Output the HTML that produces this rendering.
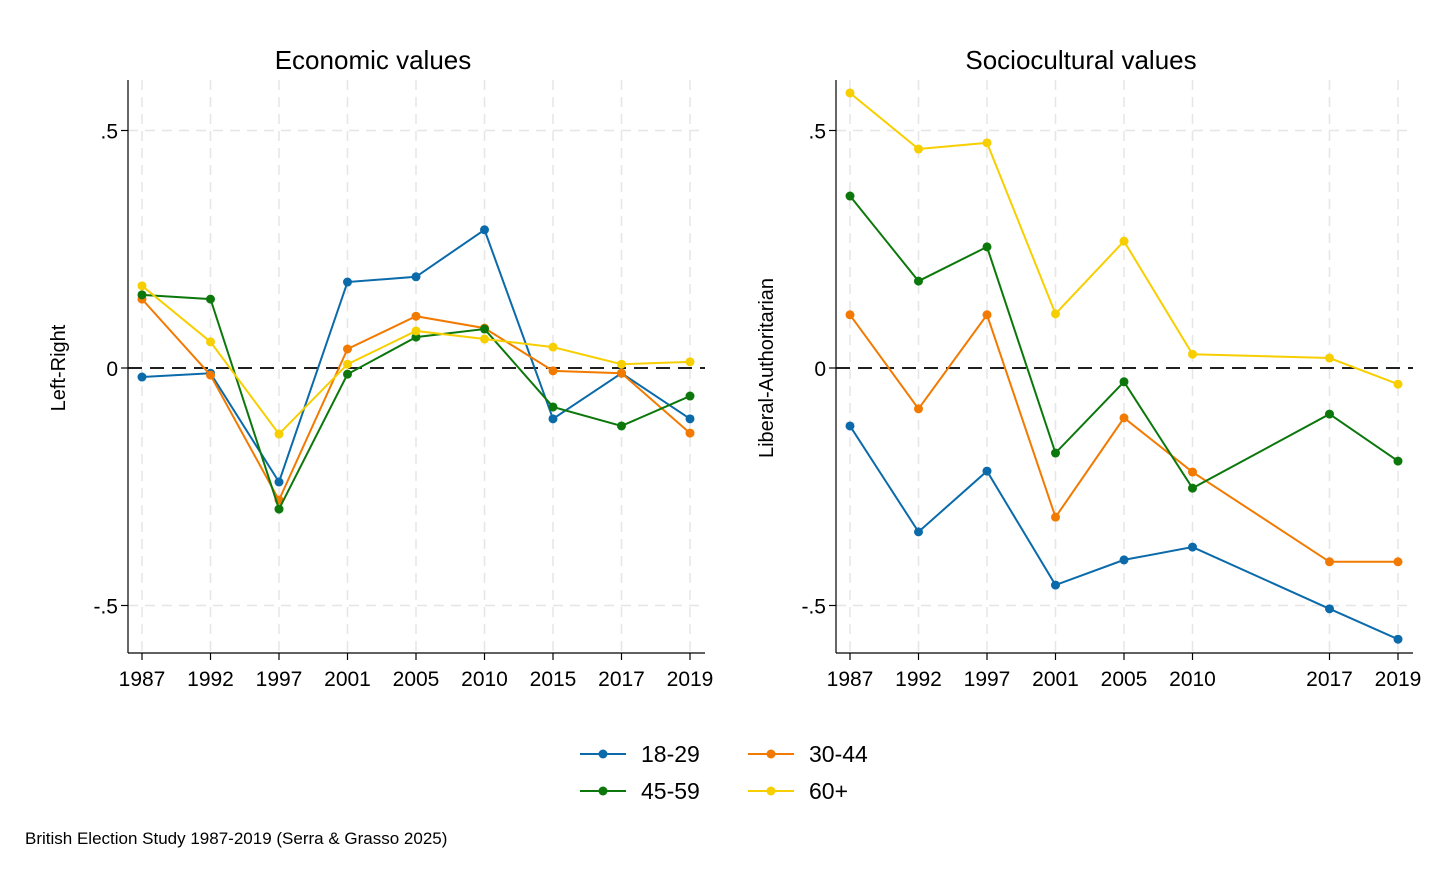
<!DOCTYPE html>
<html><head><meta charset="utf-8"><style>
body{margin:0;background:#fff;}
svg text{font-family:"Liberation Sans",Arial,sans-serif;fill:#000;}
</style></head><body>
<svg width="1456" height="874" viewBox="0 0 1456 874" id="chart"></svg>
<script>
const yearsLeft=["1987","1992","1997","2001","2005","2010","2015","2017","2019"];
const slotsLeft=[0,1,2,3,4,5,6,7,8];
const yearsRight=["1987","1992","1997","2001","2005","2010","2017","2019"];
const slotsRight=[0,1,2,3,4,5,7,8];
const seriesNames=["18-29","30-44","45-59","60+"];
const seriesColors=["#0a6aaa","#f27a00","#0c780c","#f7cf00"];
const econ1829=[-0.019,-0.011,-0.24,0.181,0.192,0.291,-0.107,-0.011,-0.107];
const econ3044=[0.145,-0.015,-0.278,0.04,0.109,0.084,-0.006,-0.011,-0.137];
const econ4559=[0.154,0.145,-0.297,-0.013,0.065,0.082,-0.082,-0.122,-0.059];
const econ60=[0.173,0.055,-0.139,0.008,0.078,0.061,0.044,0.008,0.013];
const soc1829=[-0.122,-0.345,-0.217,-0.457,-0.404,-0.377,-0.507,-0.571];
const soc3044=[0.112,-0.086,0.112,-0.314,-0.105,-0.219,-0.408,-0.408];
const soc4559=[0.362,0.183,0.255,-0.179,-0.029,-0.253,-0.097,-0.196];
const soc60=[0.579,0.461,0.474,0.114,0.267,0.029,0.021,-0.034];
const yTicks=[0.5,0,-0.5];
const yTickLabels=[".5","0","-.5"];

const svg=document.getElementById('chart');
const NS="http://www.w3.org/2000/svg";
function mk(tag,attrs,parent){const e=document.createElementNS(NS,tag);for(const k in attrs)e.setAttribute(k,attrs[k]);(parent||svg).appendChild(e);return e;}
function yScale(v){return 368-v*475;}

function panel(cfg){
  const g=mk('g',{});
  
  
  const xS=s=>cfg.x0+s*68.5;
  cfg.slots.forEach(s=>{const l=mk('line',{x1:xS(s),x2:xS(s),y1:80,y2:653,stroke:'#e6e6e6','stroke-width':1.5,'stroke-dasharray':'10,7'},g);
    });
  yTicks.forEach(v=>{if(v===0)return;const l=mk('line',{x1:cfg.ax,x2:cfg.ax+577,y1:yScale(v),y2:yScale(v),stroke:'#e6e6e6','stroke-width':1.5,'stroke-dasharray':'10,7'},g);
    });
  const z=mk('line',{x1:cfg.ax,x2:cfg.ax+577,y1:yScale(0),y2:yScale(0),stroke:'#000','stroke-width':1.8,'stroke-dasharray':'14,8'},g);
  
  const ya=mk('line',{x1:cfg.ax,x2:cfg.ax,y1:80,y2:653,stroke:'#000','stroke-width':1.2},g);
  
  const xa=mk('line',{x1:cfg.ax,x2:cfg.ax+577,y1:653,y2:653,stroke:'#000','stroke-width':1.2},g);
  
  yTicks.forEach((v,i)=>{mk('line',{x1:cfg.ax-7,x2:cfg.ax,y1:yScale(v),y2:yScale(v),stroke:'#000','stroke-width':1.2},g);
    const t=mk('text',{x:cfg.ax-10,y:yScale(v)+8,'text-anchor':'end','font-size':21},g);t.textContent=yTickLabels[i];
    });
  cfg.slots.forEach((s,i)=>{mk('line',{x1:xS(s),x2:xS(s),y1:653,y2:660,stroke:'#000','stroke-width':1.2},g);
    const t=mk('text',{x:xS(s),y:686,'text-anchor':'middle','font-size':21},g);t.textContent=cfg.years[i];
    });
  const ti=mk('text',{x:cfg.ax+245,y:69,'text-anchor':'middle','font-size':26},g);ti.textContent=cfg.title;
  
  const yt=mk('text',{x:0,y:0,'text-anchor':'middle','font-size':20,transform:`translate(${cfg.ytx},368) rotate(-90)`},g);yt.textContent=cfg.ytitle;
  
  cfg.series.forEach((vals,si)=>{
    const pts=vals.map((v,i)=>xS(cfg.slots[i])+','+yScale(v)).join(' ');
    const pl=mk('polyline',{points:pts,fill:'none',stroke:seriesColors[si],'stroke-width':2},g);
    
    vals.forEach((v,i)=>{const c=mk('circle',{cx:xS(cfg.slots[i]),cy:yScale(v),r:4.5,fill:seriesColors[si]},g);
      });
  });
}
panel({name:'economic-panel',x0:142,ax:128,slots:slotsLeft,years:yearsLeft,title:'Economic values',ytitle:'Left-Right',ytx:65,series:[econ1829,econ3044,econ4559,econ60]});
panel({name:'sociocultural-panel',x0:850,ax:836,slots:slotsRight,years:yearsRight,title:'Sociocultural values',ytitle:'Liberal-Authoritarian',ytx:773,series:[soc1829,soc3044,soc4559,soc60]});

const lg=mk('g',{});


const lpos=[[580,754],[748,754],[580,791],[748,791]];
seriesNames.forEach((n,i)=>{const [x,y]=lpos[i];
  const e=mk('g',{},lg);
  
  
  mk('line',{x1:x,x2:x+46,y1:y,y2:y,stroke:seriesColors[i],'stroke-width':2},e);
  mk('circle',{cx:x+23,cy:y,r:4.5,fill:seriesColors[i]},e);
  const t=mk('text',{x:x+61,y:y+8,'font-size':23},e);t.textContent=n;});
const ft=mk('text',{x:25,y:844,'font-size':17});
ft.textContent='British Election Study 1987-2019 (Serra & Grasso 2025)';


</script>
</body></html>
